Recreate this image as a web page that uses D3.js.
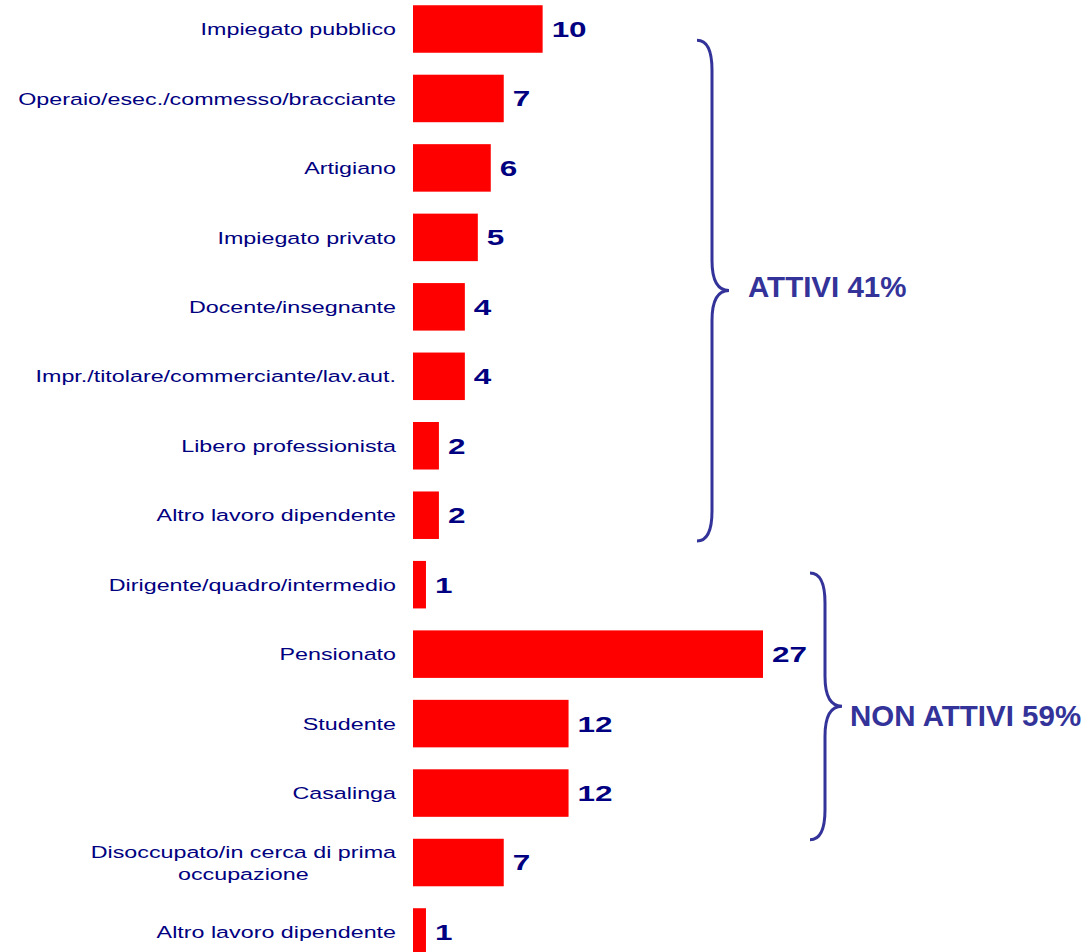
<!DOCTYPE html>
<html>
<head>
<meta charset="utf-8">
<script src="https://cdn.jsdelivr.net/npm/d3@7"></script>
<style>
  html, body { margin: 0; padding: 0; background: #fff; }
  svg { display: block; font-family: "Liberation Sans", Arial, sans-serif; }
</style>
</head>
<body>
<div id="chart"></div>
<script>
/* Data */
const categories = [
  "Impiegato pubblico",
  "Operaio/esec./commesso/bracciante",
  "Artigiano",
  "Impiegato privato",
  "Docente/insegnante",
  "Impr./titolare/commerciante/lav.aut.",
  "Libero professionista",
  "Altro lavoro dipendente",
  "Dirigente/quadro/intermedio",
  "Pensionato",
  "Studente",
  "Casalinga",
  "Disoccupato/in cerca di prima\noccupazione",
  "Altro lavoro dipendente"
];
const values = [10, 7, 6, 5, 4, 4, 2, 2, 1, 27, 12, 12, 7, 1];

// brace groups: label, first and last category index
const groupLabels = ["ATTIVI 41%", "NON ATTIVI 59%"];
const groupFirst = [1, 8];
const groupLast = [7, 11];

/* Layout */
const W = 1087, H = 952;
const barColor = "#ff0000";
const textColor = "#000080";
const braceColor = "#333399";
const labelStretch = 1.37;   // the original chart is stretched horizontally
const valueStretch = 1.43;

const svg = d3.select("#chart").append("svg")
  .attr("width", W)
  .attr("height", H);

// Scales
const step = 69.46;
const y = d3.scaleBand()
  .domain(d3.range(categories.length))
  .range([29 - step / 2, 29 - step / 2 + step * categories.length])
  .paddingInner(0.316)
  .paddingOuter(0.158);

const x = d3.scaleLinear()
  .domain([0, 27])
  .range([413, 763]);

// Bars
svg.selectAll("rect.bar")
  .data(values)
  .join("rect")
    .attr("class", "bar")
    .attr("x", x(0))
    .attr("y", (d, i) => y(i))
    .attr("width", d => x(d) - x(0))
    .attr("height", y.bandwidth())
    .attr("fill", barColor);

// Value labels
svg.selectAll("text.value")
  .data(values)
  .join("text")
    .attr("class", "value")
    .attr("transform", (d, i) => "translate(" + (x(d) + 9) + "," + (y(i) + y.bandwidth() / 2) + ") scale(" + valueStretch + ",1)")
    .attr("dy", "0.36em")
    .attr("font-size", 22)
    .attr("font-weight", "bold")
    .attr("fill", textColor)
    .text(d => d);

// Category labels (right aligned, multi-line ones centred as a block)
const labelRight = 396;
const lineH = 22;
categories.forEach(function(name, i) {
  const lines = name.split("\n");
  const cy = y(i) + y.bandwidth() / 2;
  const g = svg.append("g")
    .attr("transform", "translate(" + labelRight + "," + cy + ") scale(" + labelStretch + ",1)");
  const t = g.append("text")
    .attr("font-size", 17)
    .attr("fill", textColor)
    .attr("text-anchor", lines.length > 1 ? "middle" : "end");
  lines.forEach(function(line, k) {
    t.append("tspan")
      .attr("x", 0)
      .attr("y", (k - (lines.length - 1) / 2) * lineH)
      .attr("dy", "0.36em")
      .text(line);
  });
  if (lines.length > 1) {
    const widest = d3.max(t.selectAll("tspan").nodes(), n => n.getComputedTextLength());
    t.selectAll("tspan").attr("x", -widest / 2);
  }
});

/* Braces */
function bracePath(x0, top, bottom, depth, tipOut, r) {
  const x1 = x0 + depth;
  const mid = (top + bottom) / 2;
  const tip = x1 + tipOut;
  return "M" + x0 + "," + top +
    " Q" + x1 + "," + top + " " + x1 + "," + (top + r) +
    " L" + x1 + "," + (mid - r) +
    " Q" + x1 + "," + mid + " " + tip + "," + mid +
    " Q" + x1 + "," + mid + " " + x1 + "," + (mid + r) +
    " L" + x1 + "," + (bottom - r) +
    " Q" + x1 + "," + bottom + " " + x0 + "," + bottom;
}

const braceX = [697, 810];
const bracePadTop = [-34.5, 12];
const bracePadBottom = [2, 23];
const labelShift = [-4, 9];

groupLabels.forEach(function(label, i) {
  const top = y(groupFirst[i]) + bracePadTop[i];
  const bottom = y(groupLast[i]) + y.bandwidth() + bracePadBottom[i];
  const mid = (top + bottom) / 2;
  svg.append("path")
    .attr("d", bracePath(braceX[i], top, bottom, 15, 17, 30))
    .attr("fill", "none")
    .attr("stroke", braceColor)
    .attr("stroke-width", 3);
  svg.append("text")
    .attr("x", braceX[i] + (i === 0 ? 51 : 40))
    .attr("y", mid + labelShift[i])
    .attr("dy", "0.36em")
    .attr("font-size", 29.5)
    .attr("font-weight", "bold")
    .attr("fill", braceColor)
    .text(label);
});
</script>
</body>
</html>
